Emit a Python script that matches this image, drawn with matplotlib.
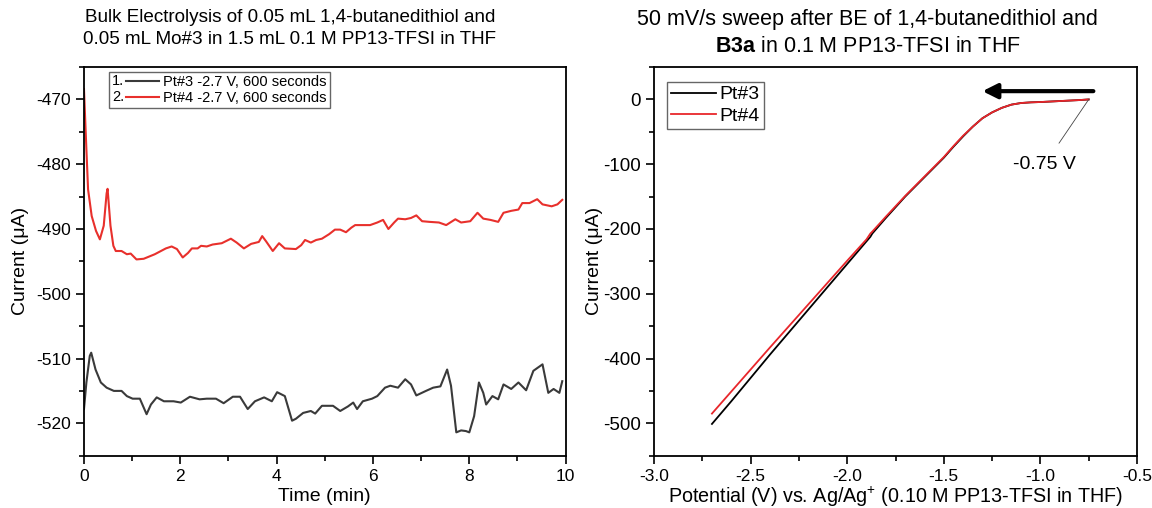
import numpy as np
import matplotlib
matplotlib.use('Agg')
import matplotlib.pyplot as plt
from matplotlib.legend_handler import HandlerLine2D
from matplotlib.text import Text
from matplotlib.ticker import MultipleLocator

plt.rcParams['font.family'] = ['Liberation Sans', 'DejaVu Sans']
plt.rcParams['mathtext.fontset'] = 'custom'
plt.rcParams['mathtext.rm'] = 'Liberation Sans'
plt.rcParams['mathtext.it'] = 'Liberation Sans:italic'
plt.rcParams['mathtext.bf'] = 'Liberation Sans:bold'
plt.rcParams['axes.unicode_minus'] = False

# bulk electrolysis, Pt#4 (red)
t_pt4 = [0, 0.05, 0.085, 0.16, 0.25, 0.33, 0.41, 0.47, 0.49, 0.55, 0.61, 0.66,
         0.78, 0.89, 0.97, 1.09, 1.24, 1.47, 1.70, 1.82, 1.93, 2.05, 2.16, 2.24,
         2.36, 2.43, 2.55, 2.67, 2.86, 3.05, 3.17, 3.32, 3.47, 3.63, 3.70, 3.78,
         3.92, 4.05, 4.17, 4.40, 4.51, 4.59, 4.71, 4.82, 4.94, 5.09, 5.21, 5.32,
         5.44, 5.55, 5.63, 5.79, 5.94, 6.09, 6.21, 6.32, 6.44, 6.52, 6.67, 6.79,
         6.90, 7.02, 7.17, 7.37, 7.52, 7.71, 7.83, 8.02, 8.17, 8.29, 8.44, 8.60,
         8.71, 8.87, 9.02, 9.10, 9.25, 9.41, 9.52, 9.71, 9.83, 9.93]
i_pt4 = [-468.4, -477.7, -483.9, -488.0, -490.3, -491.6, -489.5, -484.5, -483.8,
         -489.5, -492.6, -493.4, -493.4, -493.9, -493.8, -494.7, -494.6, -493.9,
         -493.0, -492.7, -493.1, -494.4, -493.7, -493.0, -493.0, -492.6, -492.7,
         -492.4, -492.2, -491.5, -492.1, -493.0, -492.3, -492.0, -491.1, -491.9,
         -493.4, -492.2, -493.0, -493.1, -492.5, -491.7, -492.1, -491.7, -491.5,
         -490.8, -490.1, -490.1, -490.5, -489.8, -489.4, -489.4, -489.4, -489.0,
         -488.6, -490.0, -489.0, -488.4, -488.5, -488.3, -487.9, -488.8, -488.9,
         -489.0, -489.4, -488.5, -489.0, -488.8, -487.5, -488.4, -488.6, -488.9,
         -487.5, -487.2, -487.0, -486.0, -486.0, -485.4, -486.2, -486.5, -486.2,
         -485.5]

# bulk electrolysis, Pt#3 (dark)
t_pt3 = [0, 0.05, 0.12, 0.15, 0.24, 0.35, 0.47, 0.62, 0.78, 0.89, 1.01, 1.16,
         1.30, 1.39, 1.51, 1.66, 1.86, 2.01, 2.20, 2.40, 2.55, 2.74, 2.90, 3.09,
         3.24, 3.40, 3.55, 3.74, 3.90, 4.01, 4.17, 4.32, 4.40, 4.55, 4.71, 4.80,
         4.94, 5.17, 5.32, 5.48, 5.59, 5.67, 5.79, 5.98, 6.09, 6.25, 6.36, 6.52,
         6.67, 6.79, 6.90, 7.10, 7.25, 7.40, 7.54, 7.62, 7.73, 7.83, 7.93, 8.00,
         8.10, 8.20, 8.29, 8.35, 8.48, 8.60, 8.71, 8.87, 9.02, 9.18, 9.33, 9.52,
         9.64, 9.75, 9.87, 9.93]
i_pt3 = [-517.8, -513.7, -509.6, -509.1, -511.7, -513.7, -514.5, -515.0, -515.0,
         -515.8, -516.2, -516.2, -518.6, -517.1, -516.0, -516.6, -516.6, -516.8,
         -515.9, -516.3, -516.2, -516.2, -516.9, -515.9, -515.9, -517.8, -516.6,
         -516.0, -516.6, -515.2, -515.8, -519.6, -519.3, -518.4, -518.1, -518.5,
         -517.3, -517.3, -518.1, -517.4, -516.8, -517.8, -516.6, -516.2, -515.8,
         -514.5, -514.2, -514.5, -513.2, -514.0, -515.7, -515.0, -514.5, -514.3,
         -511.7, -514.2, -521.4, -521.1, -521.2, -521.4, -518.9, -513.7, -515.3,
         -517.1, -515.8, -516.3, -514.0, -514.7, -513.7, -514.9, -511.9, -510.9,
         -515.3, -514.7, -515.3, -513.5]

# linear sweep after BE
e_sweep = [-0.75, -0.80, -0.90, -1.00, -1.05, -1.10, -1.15, -1.20, -1.25, -1.30,
           -1.35, -1.40, -1.45, -1.50, -1.60, -1.70, -1.80, -1.87, -1.88, -1.90,
           -2.00, -2.20, -2.40, -2.60, -2.70]
i_sweep_pt3 = [0, -1, -2.5, -4, -4.5, -5.5, -8, -13, -20, -29, -42, -57, -73,
               -90, -120, -150, -183, -207, -212, -219, -254, -324, -394, -466,
               -501]
i_sweep_pt4 = [0, -1, -2.5, -4, -4.5, -5.5, -8, -13, -20, -29, -42, -56, -72,
               -89, -119, -149, -181, -204, -207, -216, -249, -316, -383, -451,
               -485]


class NumHandler(HandlerLine2D):
    '''origin-style legend entry: "1." then the line'''
    def __init__(self, num, **kw):
        super().__init__(**kw)
        self.num = num

    def create_artists(self, legend, orig_handle, xdescent, ydescent,
                       width, height, fontsize, trans):
        pad = fontsize * 0.95
        arts = super().create_artists(legend, orig_handle, xdescent - pad,
                                      ydescent, width - pad, height,
                                      fontsize, trans)
        t = Text(-xdescent, (height - ydescent) / 2, self.num,
                 fontsize=fontsize, va='center', ha='left', transform=trans)
        return list(arts) + [t]


def style_axes(ax):
    for s in ax.spines.values():
        s.set_linewidth(1.3)
    ax.tick_params(which='both', direction='out', top=False, right=False,
                   width=1.2)
    ax.tick_params(which='major', length=6)
    ax.tick_params(which='minor', length=3.5)


fig = plt.figure(figsize=(11.52, 5.08), dpi=100)

# left panel
ax1 = fig.add_axes([0.0729, 0.103, 0.4181, 0.765])
l3, = ax1.plot(t_pt3, i_pt3, color='#3a3a3a', lw=1.5)
l4, = ax1.plot(t_pt4, i_pt4, color='#e8302c', lw=1.5)
ax1.set_xlim(0, 10)
ax1.set_ylim(-525, -465)
ax1.xaxis.set_major_locator(MultipleLocator(2))
ax1.xaxis.set_minor_locator(MultipleLocator(1))
ax1.yaxis.set_major_locator(MultipleLocator(10))
ax1.yaxis.set_minor_locator(MultipleLocator(5))
style_axes(ax1)
ax1.tick_params(labelsize=12.5)
ax1.set_xlabel('Time (min)', fontsize=14, labelpad=3)
ax1.set_ylabel('Current (μA)', fontsize=14, labelpad=5)
leg1 = ax1.legend([l3, l4], ['Pt#3 -2.7 V, 600 seconds',
                             'Pt#4 -2.7 V, 600 seconds'],
                  handler_map={l3: NumHandler('1.'), l4: NumHandler('2.')},
                  loc='upper left', bbox_to_anchor=(0.0525, 0.988),
                  borderaxespad=0, fontsize=10.5, handlelength=3.2,
                  handletextpad=0.3, labelspacing=0.15, borderpad=0.2,
                  fancybox=False, edgecolor='#666666', framealpha=1)
leg1.get_frame().set_linewidth(1.0)

fig.text(290 / 1152, 1 - 17 / 508,
         'Bulk Electrolysis of 0.05 mL 1,4-butanedithiol and',
         ha='center', va='center', fontsize=13.6)
fig.text(290 / 1152, 1 - 40 / 508,
         '0.05 mL Mo#3 in 1.5 mL 0.1 M PP13-TFSI in THF',
         ha='center', va='center', fontsize=13.6)

# right panel
ax2 = fig.add_axes([0.5677, 0.103, 0.4193, 0.765])
r3, = ax2.plot(e_sweep, i_sweep_pt3, color='black', lw=1.3)
r4, = ax2.plot(e_sweep, i_sweep_pt4, color='#e8262b', lw=1.3)
ax2.set_xlim(-3.0, -0.5)
ax2.set_ylim(-550, 50)
ax2.xaxis.set_major_locator(MultipleLocator(0.5))
ax2.xaxis.set_minor_locator(MultipleLocator(0.25))
ax2.yaxis.set_major_locator(MultipleLocator(100))
ax2.yaxis.set_minor_locator(MultipleLocator(50))
ax2.xaxis.set_major_formatter(lambda v, p: '%.1f' % v)
style_axes(ax2)
ax2.tick_params(axis='x', labelsize=12.5)
ax2.tick_params(axis='y', labelsize=13.5)
ax2.set_xlabel('Potential (V) vs. Ag/Ag$^{+}$ (0.10 M PP13-TFSI in THF)',
               fontsize=14.2, labelpad=0.5)
ax2.set_ylabel('Current (μA)', fontsize=14, labelpad=0)
leg2 = ax2.legend([r3, r4], ['Pt#3', 'Pt#4'], loc='upper left',
                  bbox_to_anchor=(0.027, 0.962), borderaxespad=0,
                  fontsize=14, handlelength=2.3, handletextpad=0.2,
                  labelspacing=0.2, borderpad=0.2, fancybox=False,
                  edgecolor='#666666', framealpha=1)
leg2.get_frame().set_linewidth(1.0)

ax2.annotate('', xy=(-1.30, 12.8), xytext=(-0.726, 12.8),
             arrowprops=dict(arrowstyle='-|>', lw=3, color='black',
                             mutation_scale=22, shrinkA=0, shrinkB=0))
ax2.annotate('-0.75 V', xy=(-0.75, 0), xytext=(-0.98, -101),
             ha='center', va='center', fontsize=14,
             arrowprops=dict(arrowstyle='-', lw=0.6, color='#444444',
                             shrinkA=9, shrinkB=0))

fig.text(867 / 1152, 1 - 20 / 508,
         '50 mV/s sweep after BE of 1,4-butanedithiol and',
         ha='center', va='center', fontsize=15.5)
fig.text(868 / 1152, 1 - 46 / 508,
         '$\\mathbf{B3a}$ in 0.1 M PP13-TFSI in THF',
         ha='center', va='center', fontsize=15.5)

fig.savefig('out.png', dpi=100)
